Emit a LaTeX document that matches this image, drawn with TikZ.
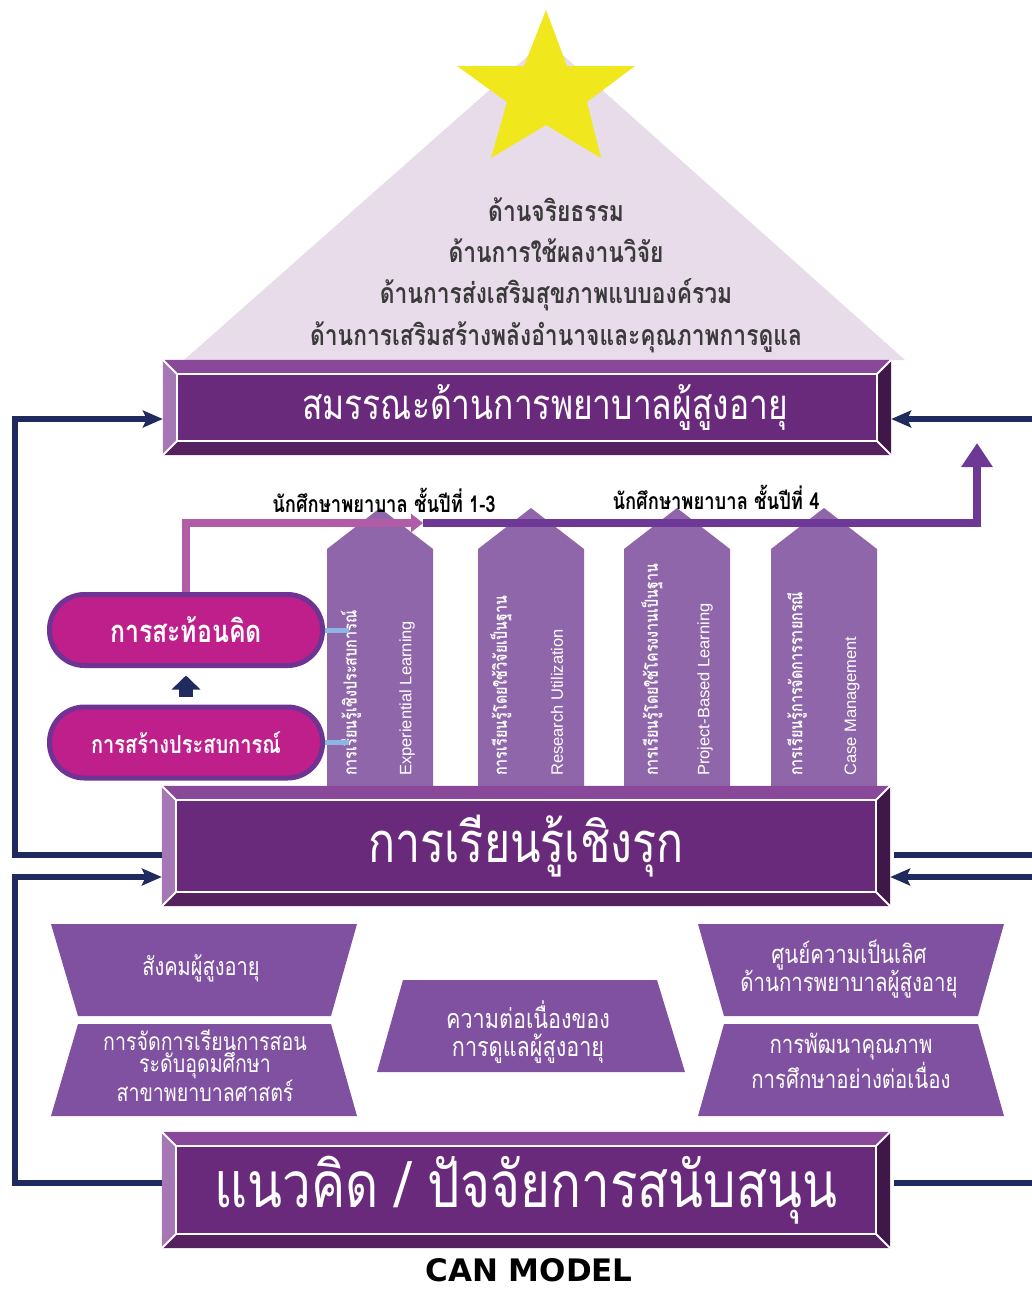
\documentclass[tikz,border=0pt]{standalone}
\usepackage{fontspec}
\setmainfont{Liberation Sans}
\newfontfamily\thai[Script=Thai,FakeStretch=0.8]{Loma}
\newfontfamily\heavy{DejaVu Sans}
\usetikzlibrary{positioning}
\usetikzlibrary{arrows.meta}
\usetikzlibrary{calc}

\definecolor{pyrfill}{HTML}{E8DCEA}
\definecolor{staryel}{HTML}{F0E81C}
\definecolor{pyrtext}{HTML}{3A3A3A}
\definecolor{boxface}{HTML}{6A2A7C}
\definecolor{bevtopc}{HTML}{8A489A}
\definecolor{bevleftc}{HTML}{A677B5}
\definecolor{bevrightc}{HTML}{3F1748}
\definecolor{bevbotc}{HTML}{56215F}
\definecolor{pilfill}{HTML}{9066AA}
\definecolor{pinkline}{HTML}{B05CA6}
\definecolor{purpline}{HTML}{6E3896}
\definecolor{ovalfill}{HTML}{BE1F8A}
\definecolor{ovalrim}{HTML}{6F3394}
\definecolor{tickblue}{HTML}{8DB6E2}
\definecolor{navy}{HTML}{1F2A5E}
\definecolor{trapfill}{HTML}{7F51A0}

\tikzset{>={Stealth[length=20pt,width=17pt,inset=4pt]}}
\tikzset{bigbox/.style={fill=boxface, inner sep=0pt, text=white, minimum width=728pt}}
\tikzset{oval/.style={draw=ovalrim, line width=5pt, fill=ovalfill, rounded corners=35pt, minimum width=273pt, minimum height=71pt, text=white, inner sep=0pt}}
\tikzset{conn/.style={draw=navy, line width=6pt}}
\tikzset{pyr/.style={text=pyrtext, inner sep=0pt, font=\thai\bfseries\fontsize{28.5}{28.5}\selectfont}}
\tikzset{pillar/.style={fill=pilfill}}
\tikzset{pilth/.style={rotate=90, anchor=west, inner sep=0pt, text=white, font=\thai\bfseries\fontsize{18}{18}\selectfont}}
\tikzset{pilen/.style={rotate=90, anchor=west, inner sep=0pt, text=white, font=\fontsize{16.5}{16.5}\selectfont}}
\tikzset{trap/.style={fill=trapfill}}
\tikzset{traptext/.style={text=white, align=center, inner sep=0pt}}
\tikzset{yearlabel/.style={inner sep=0pt, font=\thai\bfseries\fontsize{23}{23}\selectfont}}

\newcommand{\boxbevel}[1]{%
  \fill[bevtopc] (#1.north west) -- (#1.north east) -- ([shift={(-14,14)}]#1.north east) -- ([shift={(14,14)}]#1.north west) -- cycle;
  \fill[bevleftc] (#1.north west) -- ([shift={(14,14)}]#1.north west) -- ([shift={(14,-14)}]#1.south west) -- (#1.south west) -- cycle;
  \fill[bevrightc] (#1.north east) -- ([shift={(-14,14)}]#1.north east) -- ([shift={(-14,-14)}]#1.south east) -- (#1.south east) -- cycle;
  \fill[bevbotc] (#1.south west) -- ([shift={(14,-14)}]#1.south west) -- ([shift={(-14,-14)}]#1.south east) -- (#1.south east) -- cycle;
  \draw[white, line width=2pt] ([shift={(14,14)}]#1.north west) rectangle ([shift={(-14,-14)}]#1.south east);
  \draw[white, line width=2pt] (#1.north west) -- ([shift={(14,14)}]#1.north west)
    (#1.north east) -- ([shift={(-14,14)}]#1.north east)
    (#1.south west) -- ([shift={(14,-14)}]#1.south west)
    (#1.south east) -- ([shift={(-14,-14)}]#1.south east);
}

\begin{document}
\begin{tikzpicture}[x=1pt, y=-1pt]
    \useasboundingbox (0,0) rectangle (1032,1291);

    % pyramid and star
    \fill[pyrfill] (184,360) -- (546,40) -- (905,360) -- cycle;
    \fill[staryel] (546,10) -- (567,66) -- (635,66) -- (587,102) -- (601,158)
      -- (546,125) -- (491,158) -- (507,102) -- (457,66) -- (524,66) -- cycle;

    \node[pyr] (ethics) at (556,210) {ด้านจริยธรรม};
    \node[pyr] (research) at (556,251) {ด้านการใช้ผลงานวิจัย};
    \node[pyr] (health) at (556,295) {ด้านการส่งเสริมสุขภาพแบบองค์รวม};
    \node[pyr] (empower) at (556,337) {ด้านการเสริมสร้างพลังอำนาจและคุณภาพการดูแล};

    \node[bigbox, minimum height=95pt, font=\thai\fontsize{42}{42}\selectfont] (comp) at (527,407.5)
      {\hspace*{36pt}สมรรณะด้านการพยาบาลผู้สูงอายุ};
    \boxbevel{comp}

    % pillars
    \fill[pillar] (327,786) -- (327,549) -- (380,508) -- (433,549) -- (433,786) -- cycle;
    \fill[pillar] (478,786) -- (478,549) -- (531,508) -- (584,549) -- (584,786) -- cycle;
    \fill[pillar] (624,786) -- (624,549) -- (677,508) -- (730,549) -- (730,786) -- cycle;
    \fill[pillar] (771,786) -- (771,549) -- (824,508) -- (877,549) -- (877,786) -- cycle;

    \node[pilth] (p1th) at (351,776) {การเรียนรู้เชิงประสบการณ์};
    \node[pilen] (p1en) at (407,776) {Experiential Learning};
    \node[pilth] (p2th) at (501,776) {การเรียนรู้โดยใช้วิจัยเป็นฐาน};
    \node[pilen] (p2en) at (557,776) {Research Utilization};
    \node[pilth] (p3th) at (652,776) {การเรียนรู้โดยใช้โครงงานเป็นฐาน};
    \node[pilen] (p3en) at (705,776) {Project-Based Learning};
    \node[pilth] (p4th) at (797,776) {การเรียนรู้การจัดการรายกรณี};
    \node[pilen] (p4en) at (852,776) {Case Management};

    % ovals
    \node[oval, font=\thai\bfseries\fontsize{31}{31}\selectfont] (reflect) at (186,630) {การสะท้อนคิด};
    \node[oval, font=\thai\bfseries\fontsize{25}{25}\selectfont] (build) at (186,742.5) {การสร้างประสบการณ์};

    \coordinate (split) at (423,523);
    \coordinate (rise) at (977,443);
    \draw[purpline, line width=8pt, -{Triangle[length=24pt,width=30pt]}] (split) -| (rise);
    \draw[pinkline, line width=8pt, -{Triangle[length=12pt,width=18pt]}] (reflect.north) |- (split);

    \node[yearlabel] (junior) at (384,500) {นักศึกษาพยาบาล ชั้นปีที่ 1-3};
    \node[yearlabel] (senior) at (716,497) {นักศึกษาพยาบาล ชั้นปีที่ 4};

    \draw[tickblue, line width=5pt] (reflect.east) -- ++(24,0);
    \draw[tickblue, line width=5pt] (build.east) -- ++(24,0);
    \draw[navy, line width=14pt, -{Triangle[length=14pt,width=28pt]}, shorten <=8pt, shorten >=7.5pt]
      (build.north) -- (reflect.south);

    \node[bigbox, minimum height=120pt, font=\thai\fontsize{56}{56}\selectfont] (learn) at (526,846) {การเรียนรู้เชิงรุก};
    \boxbevel{learn}

    % supporting factors
    \fill[trap] (51,924) -- (357,924) -- (331,1016) -- (78,1016) -- cycle;
    \fill[trap] (78,1024) -- (331,1024) -- (357,1116) -- (51,1116) -- cycle;
    \fill[trap] (403,980) -- (657,980) -- (685,1072) -- (377,1072) -- cycle;
    \fill[trap] (698,924) -- (1004,924) -- (978,1016) -- (724,1016) -- cycle;
    \fill[trap] (724,1024) -- (978,1024) -- (1004,1116) -- (698,1116) -- cycle;

    \node[traptext, font=\thai\fontsize{25}{28}\selectfont] (society) at (201,968) {สังคมผู้สูงอายุ};
    \node[traptext, font=\thai\fontsize{24.5}{22}\selectfont] (teaching) at (205,1066)
      {การจัดการเรียนการสอน\\ระดับอุดมศึกษา\\สาขาพยาบาลศาสตร์};
    \node[traptext, font=\thai\fontsize{27}{28}\selectfont] (continuity) at (528,1032)
      {ความต่อเนื่องของ\\การดูแลผู้สูงอายุ};
    \node[traptext, font=\thai\fontsize{25.5}{28}\selectfont] (excellence) at (849,969)
      {ศูนย์ความเป็นเลิศ\\ด้านการพยาบาลผู้สูงอายุ};
    \node[traptext, font=\thai\fontsize{25.5}{35}\selectfont] (quality) at (851,1061)
      {การพัฒนาคุณภาพ\\การศึกษาอย่างต่อเนื่อง};

    \node[bigbox, minimum height=116pt, font=\thai\fontsize{64}{64}\selectfont] (base) at (526,1190)
      {แนวคิด / ปัจจัยการสนับสนุน};
    \boxbevel{base}

    % feedback loops
    \coordinate (lhi) at (15,419);
    \coordinate (llo) at (15,877);
    \coordinate (rhi) at (1032,419);
    \coordinate (rmidout) at (1032,855);
    \coordinate (rmidin) at (1032,877);
    \coordinate (rlow) at (1032,1183);

    \draw[conn, ->] ([yshift=-9pt]learn.west) -| (lhi) -- ([yshift=-11.5pt]comp.west);
    \draw[conn, ->] ([yshift=7pt]base.west) -| (llo) -- ([yshift=-31pt]learn.west);
    \draw[conn, ->] (rhi) -- ([yshift=-11.5pt]comp.east);
    \draw[conn] ([shift={(4,0)},yshift=-9pt]learn.east) -- (rmidout);
    \draw[conn, ->] (rmidin) -- ([yshift=-31pt]learn.east);
    \draw[conn] ([shift={(4,0)},yshift=7pt]base.east) -- (rlow);

    \node[anchor=base, inner sep=0pt, font=\heavy\bfseries\fontsize{31}{31}\selectfont] (title) at (529,1281) {CAN MODEL};
\end{tikzpicture}
\end{document}
